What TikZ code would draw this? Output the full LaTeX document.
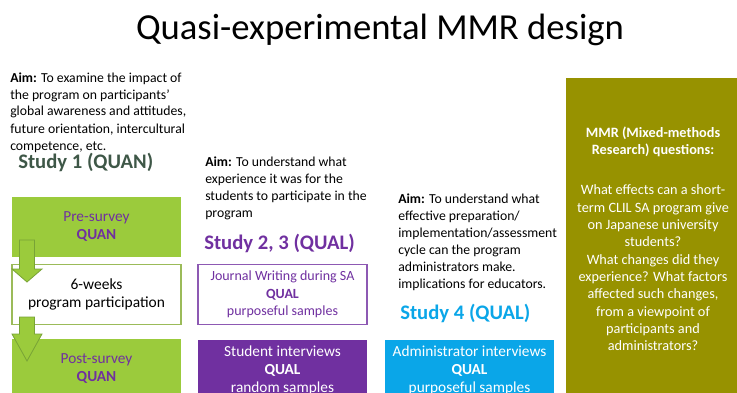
\documentclass[tikz,border=0pt]{standalone}
\usepackage{fontspec}
\setmainfont{Carlito}
\usetikzlibrary{positioning}

\definecolor{quangreen}{HTML}{9BCB3C}
\definecolor{quanedge}{HTML}{78A336}
\definecolor{qualpurple}{HTML}{7030A0}
\definecolor{qualblue}{HTML}{0AA6E8}
\definecolor{studyone}{HTML}{3E5747}
\definecolor{mmrolive}{HTML}{979200}
\definecolor{progedge}{HTML}{9BBB59}

\tikzset{
  aimtext/.style={anchor=base west, align=left, inner sep=0pt,
    font=\fontsize{10.3}{12.75}\selectfont},
  studytitle/.style={anchor=base west, inner sep=0pt,
    font=\fontsize{15.5}{17}\selectfont\bfseries},
  methodbox/.style={minimum width=126.75pt, minimum height=44.5pt, inner sep=0pt,
    align=center, font=\fontsize{11.5}{13.5}\selectfont},
  downarrow/.style={fill=quangreen, draw=quanedge, line width=0.6pt}
}

\begin{document}
\begin{tikzpicture}[x=0.75pt,y=-0.75pt]
  %%%%% FRAME %%%%%
  \useasboundingbox (0,0) rectangle (737,392);
  \clip (0,0) rectangle (737,392);
  \def\ax{27}
  \def\shaft{7.5}
  \def\head{15}

  \node[inner sep=0pt, anchor=base, font=\fontsize{27.5}{30}\selectfont] (title) at (380,40) {Quasi-experimental MMR design};

  %%%%% STUDY 1 %%%%%
  \node[aimtext] (aimone) at (10,150) {\textbf{Aim:} To examine the impact of\\the program on participants’\\global awareness and attitudes,\\future orientation, intercultural\\competence, etc.};
  \node[studytitle, text=studyone] (studyone) at (18,168) {Study 1 (QUAN)};

  \node[methodbox, fill=quangreen, text=qualpurple] (pre) at (96.5,227) {Pre-survey\\\textbf{QUAN}};
  \node[methodbox, fill=white, draw=progedge, line width=0.8pt, font=\fontsize{11.6}{13.5}\selectfont] (prog) at (96.5,294.5) {6-weeks\\program participation};
  \node[methodbox, fill=quangreen, text=qualpurple] (post) at (96.5,369) {Post-survey\\\textbf{QUAN}};

  \draw[downarrow] (\ax-\shaft,240) -- (\ax+\shaft,240) -- (\ax+\shaft,269) -- (\ax+\head,269) -- (\ax,282) -- (\ax-\head,269) -- (\ax-\shaft,269) -- cycle;
  \draw[downarrow] (\ax-\shaft,317) -- (\ax+\shaft,317) -- (\ax+\shaft,334) -- (\ax+\head,334) -- (\ax,361) -- (\ax-\head,334) -- (\ax-\shaft,334) -- cycle;

  %%%%% STUDY 2, 3 %%%%%
  \node[aimtext] (aimtwo) at (205,217) {\textbf{Aim:} To understand what\\experience it was for the\\students to participate in the\\program};
  \node[studytitle, text=qualpurple] (studytwo) at (204,249) {Study 2, 3 (QUAL)};

  \node[methodbox, fill=white, draw=qualpurple!80, line width=0.8pt, text=qualpurple, font=\fontsize{10.5}{13.2}\selectfont] (journal) at (282.5,294.5) {Journal Writing during SA\\\textbf{QUAL}\\purposeful samples};
  \node[methodbox, fill=qualpurple, text=white] (stuint) at (282.5,370) {Student interviews\\\textbf{QUAL}\\random samples};

  %%%%% STUDY 4 %%%%%
  \node[aimtext] (aimfour) at (398,288) {\textbf{Aim:} To understand what\\effective preparation/\\implementation/assessment\\cycle can the program\\administrators make.\\implications for educators.};
  \node[studytitle, text=qualblue] (studyfour) at (400,319) {Study 4 (QUAL)};

  \node[methodbox, fill=qualblue, text=white] (adminint) at (469.5,370) {Administrator interviews\\\textbf{QUAL}\\purposeful samples};

  %%%%% MMR QUESTIONS %%%%%
  \node[fill=mmrolive, text=white, minimum width=131pt, minimum height=242pt, inner sep=0pt, align=center,
    font=\fontsize{10.7}{13}\selectfont] (mmr) at (653,239)
    {\textbf{MMR (Mixed-methods}\\\textbf{Research) questions:}\\[17pt]What effects can a short-\\term CLIL SA program give\\on Japanese university\\students?\\What changes did they\\experience? What factors\\affected such changes,\\from a viewpoint of\\participants and\\administrators?};
\end{tikzpicture}
\end{document}
